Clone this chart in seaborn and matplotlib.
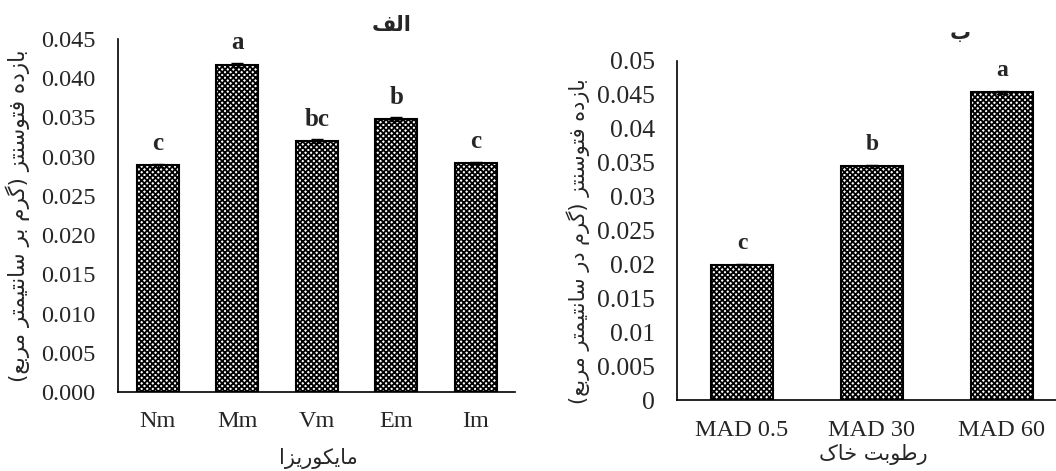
import numpy as np
import matplotlib
matplotlib.use("Agg")
import matplotlib.pyplot as plt
import seaborn as sns

# data
myco_labels = ["Nm", "Mm", "Vm", "Em", "Im"]
myco_values = [0.0289, 0.0417, 0.0320, 0.0348, 0.0292]
myco_err = [0.0002, 0.0003, 0.0002, 0.0002, 0.0001]
myco_letters = ["c", "a", "bc", "b", "c"]

mad_labels = ["MAD 0.5", "MAD 30", "MAD 60"]
mad_values = [0.0200, 0.0345, 0.0454]
mad_err = [0.0001, 0.0002, 0.0002]
mad_letters = ["c", "b", "a"]

myco_yticks = [0.000, 0.005, 0.010, 0.015, 0.020, 0.025, 0.030, 0.035, 0.040, 0.045]
mad_yticks = [0, 0.005, 0.01, 0.015, 0.02, 0.025, 0.03, 0.035, 0.04, 0.045, 0.05]

title_left = "الف"
title_right = "ب"
ylabel_left = "بازده فتوسنتز (گرم بر سانتیمتر مربع)"
ylabel_right = "بازده فتوسنتز (گرم در سانتیمتر مربع)"
xlabel_left = "مایکوریزا"
xlabel_right = "رطوبت خاک"


# matplotlib has no arabic shaping, so map letters to presentation forms
# (isolated, final, initial, medial) and reverse for display
FORMS = {
    "\u0627": ("\uFE8D", "\uFE8E", None, None),
    "\u0628": ("\uFE8F", "\uFE90", "\uFE91", "\uFE92"),
    "\u062A": ("\uFE95", "\uFE96", "\uFE97", "\uFE98"),
    "\u062E": ("\uFEA5", "\uFEA6", "\uFEA7", "\uFEA8"),
    "\u062F": ("\uFEA9", "\uFEAA", None, None),
    "\u0631": ("\uFEAD", "\uFEAE", None, None),
    "\u0632": ("\uFEAF", "\uFEB0", None, None),
    "\u0633": ("\uFEB1", "\uFEB2", "\uFEB3", "\uFEB4"),
    "\u0637": ("\uFEC1", "\uFEC2", "\uFEC3", "\uFEC4"),
    "\u0639": ("\uFEC9", "\uFECA", "\uFECB", "\uFECC"),
    "\u0641": ("\uFED1", "\uFED2", "\uFED3", "\uFED4"),
    "\u0644": ("\uFEDD", "\uFEDE", "\uFEDF", "\uFEE0"),
    "\u0645": ("\uFEE1", "\uFEE2", "\uFEE3", "\uFEE4"),
    "\u0646": ("\uFEE5", "\uFEE6", "\uFEE7", "\uFEE8"),
    "\u0647": ("\uFEE9", "\uFEEA", "\uFEEB", "\uFEEC"),
    "\u0648": ("\uFEED", "\uFEEE", None, None),
    "\u06A9": ("\uFB8E", "\uFB8F", "\uFB90", "\uFB91"),
    "\u06AF": ("\uFB92", "\uFB93", "\uFB94", "\uFB95"),
    "\u06CC": ("\uFBFC", "\uFBFD", "\uFBFE", "\uFBFF"),
}


def rtl(text):
    out = []
    for i, ch in enumerate(text):
        if ch not in FORMS:
            out.append(ch)
            continue
        prev = text[i - 1] if i > 0 else ""
        nxt = text[i + 1] if i + 1 < len(text) else ""
        join_prev = prev in FORMS and FORMS[prev][2] is not None
        join_next = nxt in FORMS and FORMS[ch][2] is not None
        iso, fin, ini, med = FORMS[ch]
        if join_prev and join_next:
            out.append(med)
        elif join_prev:
            out.append(fin)
        elif join_next:
            out.append(ini)
        else:
            out.append(iso)
    s = "".join(out)[::-1]
    return s.translate(str.maketrans("()", ")("))


sns.set_style("white")
plt.rcParams["font.family"] = ["Liberation Serif", "DejaVu Sans"]
plt.rcParams["hatch.linewidth"] = 1.3
AR = ["DejaVu Sans"]

fig = plt.figure(figsize=(10.56, 4.71), dpi=100)
ax1 = fig.add_axes([0.1117, 0.1677, 0.3764, 0.7495])
ax2 = fig.add_axes([0.6411, 0.1497, 0.3693, 0.7208])


def draw(ax, labels, values, err, letters, yticks, ymax, width, tick_fs, letter_fs, letter_off):
    sns.barplot(x=labels, y=values, ax=ax, color="white", saturation=1,
                edgecolor="black", linewidth=1.5, width=width, errorbar=None)
    for p in ax.patches:
        p.set_hatch("xxxxxx")
    xs = np.arange(len(labels))
    ax.errorbar(xs, values, yerr=err, fmt="none", ecolor="black",
                elinewidth=1, capsize=4, capthick=1)
    for x, v, e, t in zip(xs, values, err, letters):
        ax.annotate(t, (x, v + e), xytext=(0, letter_off), textcoords="offset points",
                    ha="center", va="baseline", fontsize=letter_fs, fontweight="bold")
    ax.set_xlim(-0.5, len(labels) - 0.5)
    ax.set_ylim(0, ymax)
    ax.set_yticks(yticks)
    ax.tick_params(axis="both", length=0, labelsize=tick_fs)
    ax.tick_params(axis="y", pad=16)
    ax.tick_params(axis="x", pad=14)
    for side in ["top", "right"]:
        ax.spines[side].set_visible(False)
    for side in ["left", "bottom"]:
        ax.spines[side].set_color("black")
        ax.spines[side].set_linewidth(1.2)
    ax.set_xlabel("")
    ax.set_ylabel("")


draw(ax1, myco_labels, myco_values, myco_err, myco_letters, myco_yticks, 0.045,
     0.53, 17.5, 18, 10)
ax1.set_yticklabels([f"{t:.3f}" for t in myco_yticks])

draw(ax2, mad_labels, mad_values, mad_err, mad_letters, mad_yticks, 0.05,
     0.48, 17.5, 17, 11)
ax2.set_yticklabels([f"{t:g}" for t in mad_yticks])
ax2.tick_params(axis="y", labelsize=18.5)

ax1.text(0.689, 1.04, rtl(title_left), transform=ax1.transAxes, family=AR,
         fontsize=15, fontweight="bold", ha="center", va="center")
ax2.text(0.726, 1.082, rtl(title_right), transform=ax2.transAxes, family=AR,
         fontsize=15, fontweight="bold", ha="center", va="center")

ax1.text(-0.2516, 0.5, rtl(ylabel_left), transform=ax1.transAxes, family=AR,
         fontsize=15.5, rotation=90, ha="center", va="center")
ax2.text(-0.254, 0.47, rtl(ylabel_right), transform=ax2.transAxes, family=AR,
         fontsize=15, rotation=90, ha="center", va="center")

ax1.text(0.503, -0.187, rtl(xlabel_left), transform=ax1.transAxes, family=AR,
         fontsize=15, ha="center", va="center")
ax2.text(0.503, -0.16, rtl(xlabel_right), transform=ax2.transAxes, family=AR,
         fontsize=15, ha="center", va="center")

fig.savefig("out.png", dpi=100)
